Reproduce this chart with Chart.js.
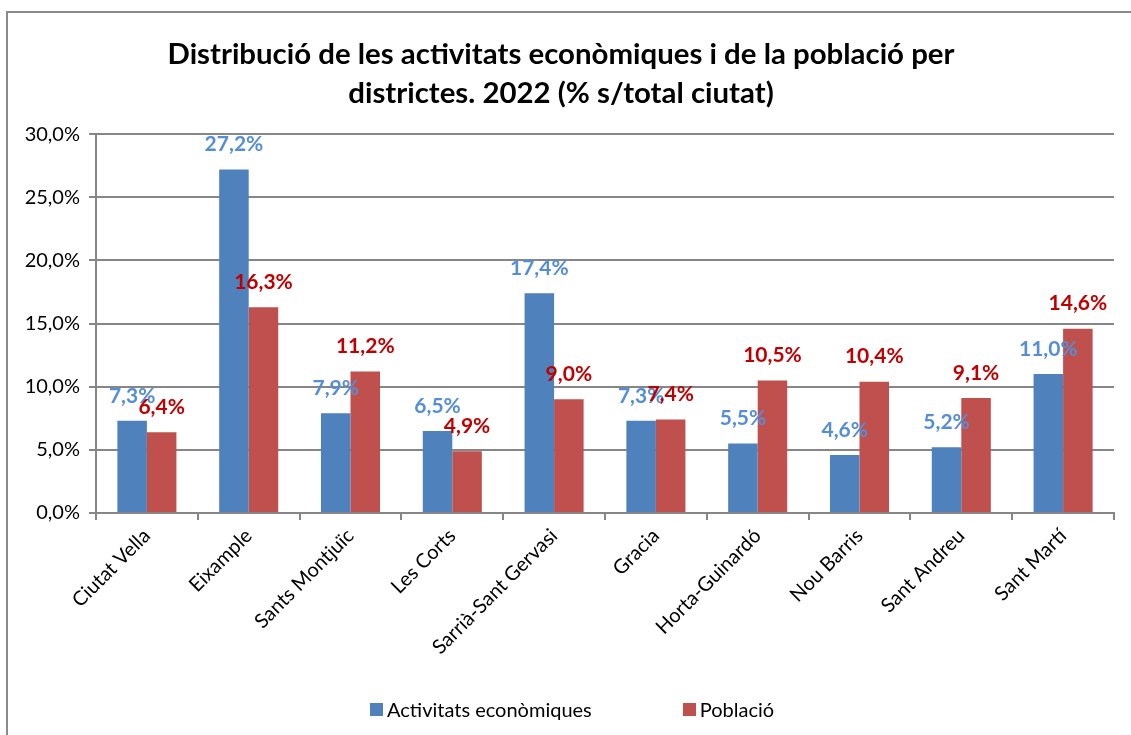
<!DOCTYPE html>
<html lang="ca">
<head>
  <meta charset="UTF-8" />
  <title>Distribució de les activitats econòmiques</title>
  <script src="https://cdn.jsdelivr.net/npm/chart.js"></script>
  <style>
    body {
      margin: 0;
      background: #fff;
      font-family: Lato, 'Open Sans', sans-serif;
    }

    .frame {
      position: absolute;
      left: 6px;
      top: 11px;
      width: 1125px;
      height: 724px;
      border-left: 2px solid #8a8a8a;
      border-top: 2px solid #8a8a8a;
    }

    .frame canvas {
      display: block;
    }

    .legend {
      position: absolute;
      top: 697px;
      left: 370px;
      display: flex;
      align-items: center;
      font-size: 20px;
      color: #000;
    }

    .legend span.box {
      display: inline-block;
      width: 13px;
      height: 13px;
      margin-right: 4px;
    }

    .legend .item {
      display: flex;
      align-items: center;
      margin-right: 91px;
    }
  </style>
</head>
<body>

  <div class="frame">
    <canvas id="chart" width="1123" height="722"></canvas>
  </div>

  <div class="legend">
    <div class="item"><span class="box" style="background:#4F81BD"></span>Activitats econòmiques</div>
    <div class="item"><span class="box" style="background:#C0504D"></span>Població</div>
  </div>

  <script>
    const districtes = ['Ciutat Vella', 'Eixample', 'Sants Montjuïc', 'Les Corts', 'Sarrià-Sant Gervasi',
      'Gracia', 'Horta-Guinardó', 'Nou Barris', 'Sant Andreu', 'Sant Martí'];
    const activitats = [7.3, 27.2, 7.9, 6.5, 17.4, 7.3, 5.5, 4.6, 5.2, 11.0];
    const poblacio = [6.4, 16.3, 11.2, 4.9, 9.0, 7.4, 10.5, 10.4, 9.1, 14.6];
    const yTicks = [0, 5, 10, 15, 20, 25, 30];

    const pct = v => v.toFixed(1).replace('.', ',') + '%';

    // value labels above each bar
    const barLabels = {
      id: 'barLabels',
      afterDatasetsDraw(chart) {
        const ctx = chart.ctx;
        ctx.save();
        ctx.font = 'bold 21px Lato, sans-serif';
        ctx.textAlign = 'center';
        ctx.textBaseline = 'middle';
        chart.data.datasets.forEach((ds, i) => {
          const meta = chart.getDatasetMeta(i);
          ctx.fillStyle = ds.labelColor;
          meta.data.forEach((bar, j) => {
            ctx.fillText(pct(ds.data[j]), bar.x, bar.y - 25);
          });
        });
        ctx.restore();
      }
    };

    const ctx = document.getElementById('chart').getContext('2d');
    new Chart(ctx, {
      type: 'bar',
      data: {
        labels: districtes,
        datasets: [
          {
            label: 'Activitats econòmiques',
            data: activitats,
            backgroundColor: '#4F81BD',
            labelColor: '#558ED5',
            barPercentage: 1,
            categoryPercentage: 0.58
          },
          {
            label: 'Població',
            data: poblacio,
            backgroundColor: '#C0504D',
            labelColor: '#C00000',
            barPercentage: 1,
            categoryPercentage: 0.58
          }
        ]
      },
      options: {
        responsive: false,
        animation: false,
        layout: { padding: { top: 21, right: 17, left: 0, bottom: 0 } },
        plugins: {
          legend: { display: false },
          tooltip: { enabled: false },
          title: {
            display: true,
            text: ['Distribució de les activitats econòmiques i de la població per',
                   'districtes. 2022 (% s/total ciutat)'],
            color: '#000',
            font: { family: 'Lato, sans-serif', size: 29.4, weight: 'bold', lineHeight: 1.33 },
            padding: { top: 1, bottom: 21 }
          }
        },
        scales: {
          y: {
            min: 0,
            max: 30,
            afterBuildTicks(scale) {
              scale.ticks = yTicks.map(v => ({ value: v }));
            },
            afterFit(scale) { scale.width = 88; },
            ticks: {
              callback: v => pct(v),
              color: '#000',
              font: { family: 'Lato, sans-serif', size: 20 },
              padding: 9
            },
            grid: { color: '#868686', lineWidth: 2, tickLength: 7 },
            border: { color: '#868686', width: 2 }
          },
          x: {
            afterFit(scale) { scale.height = 222; },
            ticks: {
              color: '#000',
              font: { family: 'Lato, sans-serif', size: 20 },
              minRotation: 45,
              maxRotation: 45,
              padding: 4
            },
            grid: { offset: true, drawOnChartArea: false, color: '#868686', lineWidth: 2, tickLength: 7 },
            border: { color: '#868686', width: 2 }
          }
        }
      },
      plugins: [barLabels]
    });
  </script>
</body>
</html>
